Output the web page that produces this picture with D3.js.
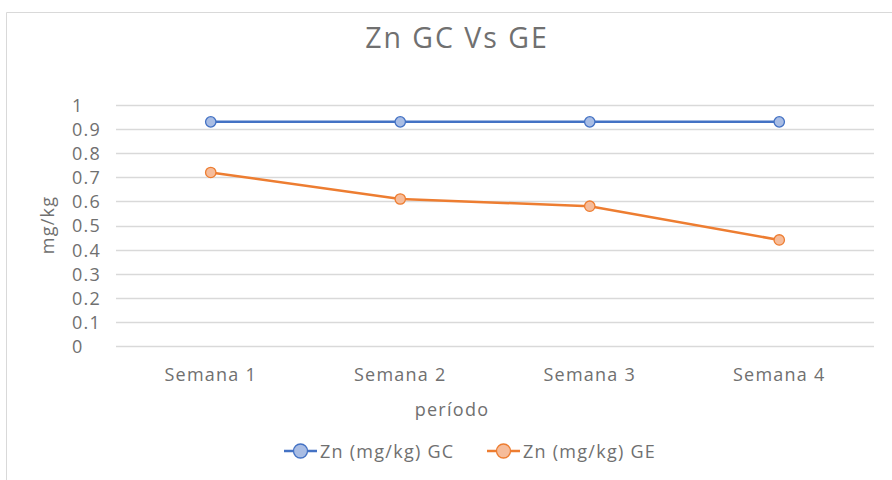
<!DOCTYPE html>
<html><head><meta charset="utf-8">
<script src="https://cdn.jsdelivr.net/npm/d3@7/dist/d3.min.js"></script>
<style>body{margin:0;background:#fff}svg{display:block}text{font-family:"Open Sans",sans-serif;letter-spacing:0.07em}</style>
</head><body><svg id="c" width="892" height="480"></svg>
<script>
const categories = ["Semana 1","Semana 2","Semana 3","Semana 4"];
const seriesNames = ["Zn (mg/kg) GC","Zn (mg/kg) GE"];
const gcValues = [0.93,0.93,0.93,0.93];
const geValues = [0.72,0.61,0.58,0.44];
const yTicks = [0,0.1,0.2,0.3,0.4,0.5,0.6,0.7,0.8,0.9,1];
const lineColors = ["#4472c4","#ed7d31"];
const fillColors = ["#a9bde4","#f6bc9a"];

const svg = d3.select("#c");
const txt = "#707070";
svg.append("path").attr("d","M6.5,480 L6.5,12.5 L892,12.5").attr("fill","none").attr("stroke","#d9d9d9");

const x = d3.scaleBand().domain(categories).range([116,874]);
const y = d3.scaleLinear().domain([0,1]).range([346,105]);

const grid = svg.append("g");
grid.selectAll("line").data(yTicks).join("line")
  .attr("x1",116).attr("x2",874).attr("y1",d=>Math.round(y(d))+0.5).attr("y2",d=>Math.round(y(d))+0.5)
  .attr("stroke","#d9d9d9").attr("stroke-width",1.6);

const yAxis = svg.append("g").attr("transform","translate(116,0)")
  .call(d3.axisLeft(y).tickValues(yTicks).tickSize(0).tickFormat(d=>d3.format("")(+d.toFixed(1))));
yAxis.select(".domain").remove();
yAxis.selectAll("text").attr("fill",txt).style("font-size","18px").attr("text-anchor","start").attr("x",-44).attr("dy","0.36em");

const xAxis = svg.append("g").attr("transform","translate(0,346)")
  .call(d3.axisBottom(x).tickSize(0).tickPadding(20));
xAxis.select(".domain").remove();
xAxis.selectAll("text").attr("fill",txt).style("font-size","18px").attr("dy","0.85em");

svg.append("text").attr("x",457).attr("y",48).attr("text-anchor","middle").attr("fill",txt).style("font-size","28.5px").text("Zn GC Vs GE");
svg.append("text").attr("x",452).attr("y",416).attr("text-anchor","middle").attr("fill",txt).style("font-size","18px").text("período");
svg.append("text").attr("transform","translate(54,225) rotate(-90)").attr("text-anchor","middle").attr("fill",txt).style("font-size","18px").text("mg/kg");

const data = [gcValues, geValues];
const line = d3.line().x((d,i)=>x(categories[i])+x.bandwidth()/2).y(d=>y(d));
data.forEach((vals,k)=>{
  const g = svg.append("g");
  g.append("path").attr("d",line(vals)).attr("fill","none").attr("stroke",lineColors[k]).attr("stroke-width",2.5);
  g.selectAll("circle").data(vals).join("circle")
    .attr("cx",(d,i)=>x(categories[i])+x.bandwidth()/2).attr("cy",d=>y(d)).attr("r",5.2)
    .attr("fill",fillColors[k]).attr("stroke",lineColors[k]).attr("stroke-width",1.3);
});

const legX = [284,487];
seriesNames.forEach((n,k)=>{
  const g = svg.append("g").attr("transform",`translate(${legX[k]},451)`);
  g.append("line").attr("x1",0).attr("x2",33).attr("stroke",lineColors[k]).attr("stroke-width",2.5);
  g.append("circle").attr("cx",16.5).attr("r",7).attr("fill",fillColors[k]).attr("stroke",lineColors[k]).attr("stroke-width",1.3);
  g.append("text").attr("x",36).attr("y",6.5).attr("fill",txt).style("font-size","18px").text(n);
});
</script></body></html>
